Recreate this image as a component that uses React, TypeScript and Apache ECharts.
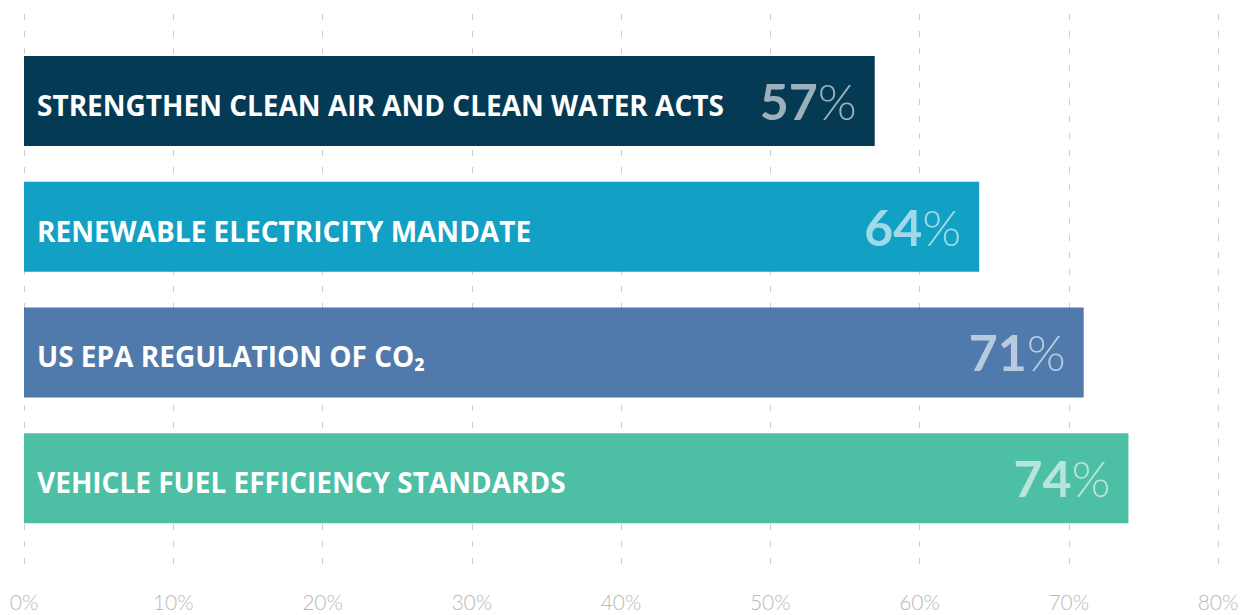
import React, { useEffect, useRef } from "react";
import * as echarts from "echarts";

const categories = [
  "STRENGTHEN CLEAN AIR AND CLEAN WATER ACTS",
  "RENEWABLE ELECTRICITY MANDATE",
  "US EPA REGULATION OF CO₂",
  "VEHICLE FUEL EFFICIENCY STANDARDS",
];
const values = [57, 64, 71, 74];
const barColors = ["#053a55", "#12a1c4", "#4f7aab", "#4dbfa4"];
const tickValues = [0, 10, 20, 30, 40, 50, 60, 70, 80];

export default function App() {
  const ref = useRef<HTMLDivElement>(null);
  useEffect(() => {
    const chart = echarts.init(ref.current!, null, { renderer: "svg" });
    const font = "Lato, 'Open Sans', sans-serif";
    const catFont = "'Open Sans', 'Noto Sans', sans-serif";
    chart.setOption({
      animation: false,
      grid: [
        { left: 24, right: 35, top: 14, bottom: 50 },
        { left: 24, right: 35, top: 38, bottom: 74 },
      ],
      xAxis: [
        {
          gridIndex: 0,
          type: "value",
          min: tickValues[0],
          max: tickValues[tickValues.length - 1],
          interval: 10,
          axisLine: { show: false },
          axisTick: { show: false },
          axisLabel: {
            formatter: "{value}%",
            color: "#b8b8b8",
            fontSize: 21,
            fontWeight: 300,
            fontFamily: font,
            margin: 26,
          },
          splitLine: {
            show: true,
            lineStyle: { color: "#cccccc", width: 1, type: [6, 11] },
          },
        },
        {
          gridIndex: 1,
          type: "value",
          min: tickValues[0],
          max: tickValues[tickValues.length - 1],
          show: false,
        },
      ],
      yAxis: [
        { gridIndex: 0, type: "value", show: false, min: 0, max: 1 },
        {
          gridIndex: 1,
          type: "category",
          data: categories,
          inverse: true,
          show: false,
        },
      ],
      series: [
        {
          type: "scatter",
          xAxisIndex: 0,
          yAxisIndex: 0,
          data: [],
        },
        {
          type: "bar",
          xAxisIndex: 1,
          yAxisIndex: 1,
          barWidth: 90,
          data: values.map((v, i) => ({
            value: v,
            itemStyle: { color: barColors[i] },
          })),
          label: {
            show: true,
            position: "insideLeft",
            distance: 13,
            offset: [0, 4],
            color: "#ffffff",
            fontSize: 28,
            fontWeight: "bold",
            fontFamily: catFont,
            formatter: (p: any) => categories[p.dataIndex],
          },
        },
        {
          type: "bar",
          xAxisIndex: 1,
          yAxisIndex: 1,
          barWidth: 90,
          barGap: "-100%",
          itemStyle: { color: "rgba(0,0,0,0)" },
          data: values,
          label: {
            show: true,
            position: "insideRight",
            distance: 18,
            formatter: (p: any) => `{num|${p.value}}{pct|%}`,
            rich: {
              num: {
                color: "rgba(255,255,255,0.6)",
                fontSize: 50,
                fontWeight: "bold",
                fontFamily: font,
              },
              pct: {
                color: "rgba(255,255,255,0.6)",
                fontSize: 50,
                fontWeight: 300,
                fontFamily: font,
              },
            },
          },
        },
      ],
    });
    return () => chart.dispose();
  }, []);
  return <div ref={ref} style={{ width: 1253, height: 615, position: "absolute", left: 0, top: 0 }} />;
}
